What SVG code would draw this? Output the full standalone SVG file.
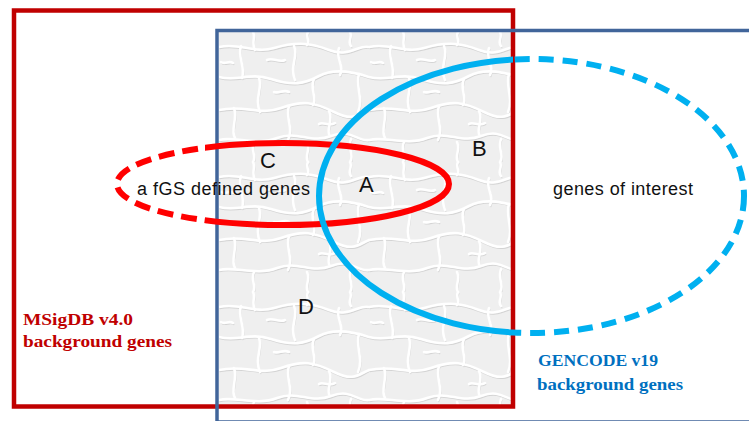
<svg xmlns="http://www.w3.org/2000/svg" width="749" height="421" viewBox="0 0 749 421">
  <style>
    .lbl { font-family: "Liberation Sans", Arial, sans-serif; font-size: 18px; fill: #111; }
    .big { font-family: "Liberation Sans", Arial, sans-serif; font-size: 22px; fill: #111; }
    .bg { font-family: "Liberation Serif", "Times New Roman", serif; font-weight: bold; font-size: 17px; }
    .crack { fill: none; stroke: #ffffff; stroke-width: 2.6; stroke-linecap: round; }
    .shadow { fill: none; stroke: #d4d4d4; stroke-width: 1.2; stroke-linecap: round; }
  </style>
  <defs>
    <g id="net">
      <path d="M0 15 C20 10 35 22 55 16 S90 10 110 18 S140 12 150 15"/>
      <path d="M0 45 C18 50 30 40 52 47 S85 52 100 44 S135 40 150 45"/>
      <path d="M0 78 C25 72 40 84 62 76 S95 70 115 80 S140 82 150 78"/>
      <path d="M0 108 C15 104 38 114 58 106 S92 112 112 104 S138 110 150 108"/>
      <path d="M22 14 C18 25 27 35 23 46"/>
      <path d="M75 14 C80 25 70 33 76 48"/>
      <path d="M120 16 C116 26 126 34 121 43"/>
      <path d="M40 46 C44 56 35 66 41 80"/>
      <path d="M95 47 C90 57 99 66 94 73"/>
      <path d="M140 42 C136 55 145 66 139 80"/>
      <path d="M15 76 C19 88 11 97 16 106"/>
      <path d="M70 74 C66 86 75 96 69 108"/>
      <path d="M110 79 C115 89 106 98 111 104"/>
      <path d="M35 110 C31 118 38 124 34 130"/>
      <path d="M34 0 C37 5 32 11 36 18"/>
      <path d="M88 110 C92 118 85 124 89 130"/>
      <path d="M89 0 C86 5 92 10 88 13"/>
      <path d="M132 107 C128 116 136 124 131 130"/>
      <path d="M131 0 C134 5 128 10 132 14"/>
      <path d="M48 28 C54 25 60 31 66 28"/>
      <path d="M100 92 C104 89 110 95 116 91"/>
      <path d="M55 60 C60 62 64 57 70 60"/>
      <path d="M2 30 C6 33 10 28 14 31"/>
    </g>
    <pattern id="tex" patternUnits="userSpaceOnUse" x="219" y="32" width="150" height="130">
      <rect width="150" height="130" fill="#efefef"/>
      <use href="#net" class="shadow" transform="translate(0.8,1.6)"/>
      <use href="#net" class="crack"/>
    </pattern>
    <clipPath id="leftOf513"><rect x="0" y="0" width="513" height="421"/></clipPath>
    <clipPath id="rightOf513"><rect x="513" y="0" width="236" height="421"/></clipPath>
    <clipPath id="leftOf205"><rect x="0" y="0" width="205" height="421"/></clipPath>
    <clipPath id="rightOf205"><rect x="205" y="0" width="544" height="421"/></clipPath>
  </defs>

  <g id="overlap-texture">
    <rect x="219" y="32" width="292" height="373" fill="url(#tex)"/>
  </g>

  <g id="msigdb">
    <rect x="14" y="10.5" width="499" height="396" fill="none" stroke="#c00000" stroke-width="4.5"/>
    <text class="bg" fill="#c00000" x="23" y="325" textLength="110" lengthAdjust="spacingAndGlyphs">MSigDB v4.0</text>
    <text class="bg" fill="#c00000" x="23" y="347" textLength="149" lengthAdjust="spacingAndGlyphs">background genes</text>
  </g>

  <g id="gencode">
    <rect x="217" y="30.5" width="560" height="391.5" fill="none" stroke="#41659a" stroke-width="3.5"/>
    <text class="bg" fill="#0070c0" x="538" y="366" textLength="120" lengthAdjust="spacingAndGlyphs">GENCODE v19</text>
    <text class="bg" fill="#0070c0" x="537" y="390" textLength="146" lengthAdjust="spacingAndGlyphs">background genes</text>
  </g>

  <g id="connectors">
    <g id="fgs-ellipse">
      <ellipse cx="283" cy="184" rx="166" ry="41" fill="none" stroke="#ff0000" stroke-width="6" clip-path="url(#rightOf205)"/>
      <ellipse cx="283" cy="184" rx="166" ry="41" fill="none" stroke="#ff0000" stroke-width="6" stroke-dasharray="16 8" clip-path="url(#leftOf205)"/>
    </g>
    <g id="interest-ellipse">
      <ellipse cx="531.5" cy="196" rx="212.5" ry="137" fill="none" stroke="#00b0f0" stroke-width="6" clip-path="url(#leftOf513)"/>
      <ellipse cx="531.5" cy="196" rx="212.5" ry="137" fill="none" stroke="#00b0f0" stroke-width="6" stroke-dasharray="15 9" clip-path="url(#rightOf513)"/>
    </g>
  </g>

  <g id="labels">
    <text class="lbl" x="137" y="195" textLength="173" lengthAdjust="spacing">a fGS defined genes</text>
    <text class="lbl" x="553" y="195" textLength="140" lengthAdjust="spacing">genes of interest</text>
    <text class="big" x="260" y="168">C</text>
    <text class="big" x="359" y="192">A</text>
    <text class="big" x="472" y="156">B</text>
    <text class="big" x="298" y="314">D</text>
  </g>
</svg>
